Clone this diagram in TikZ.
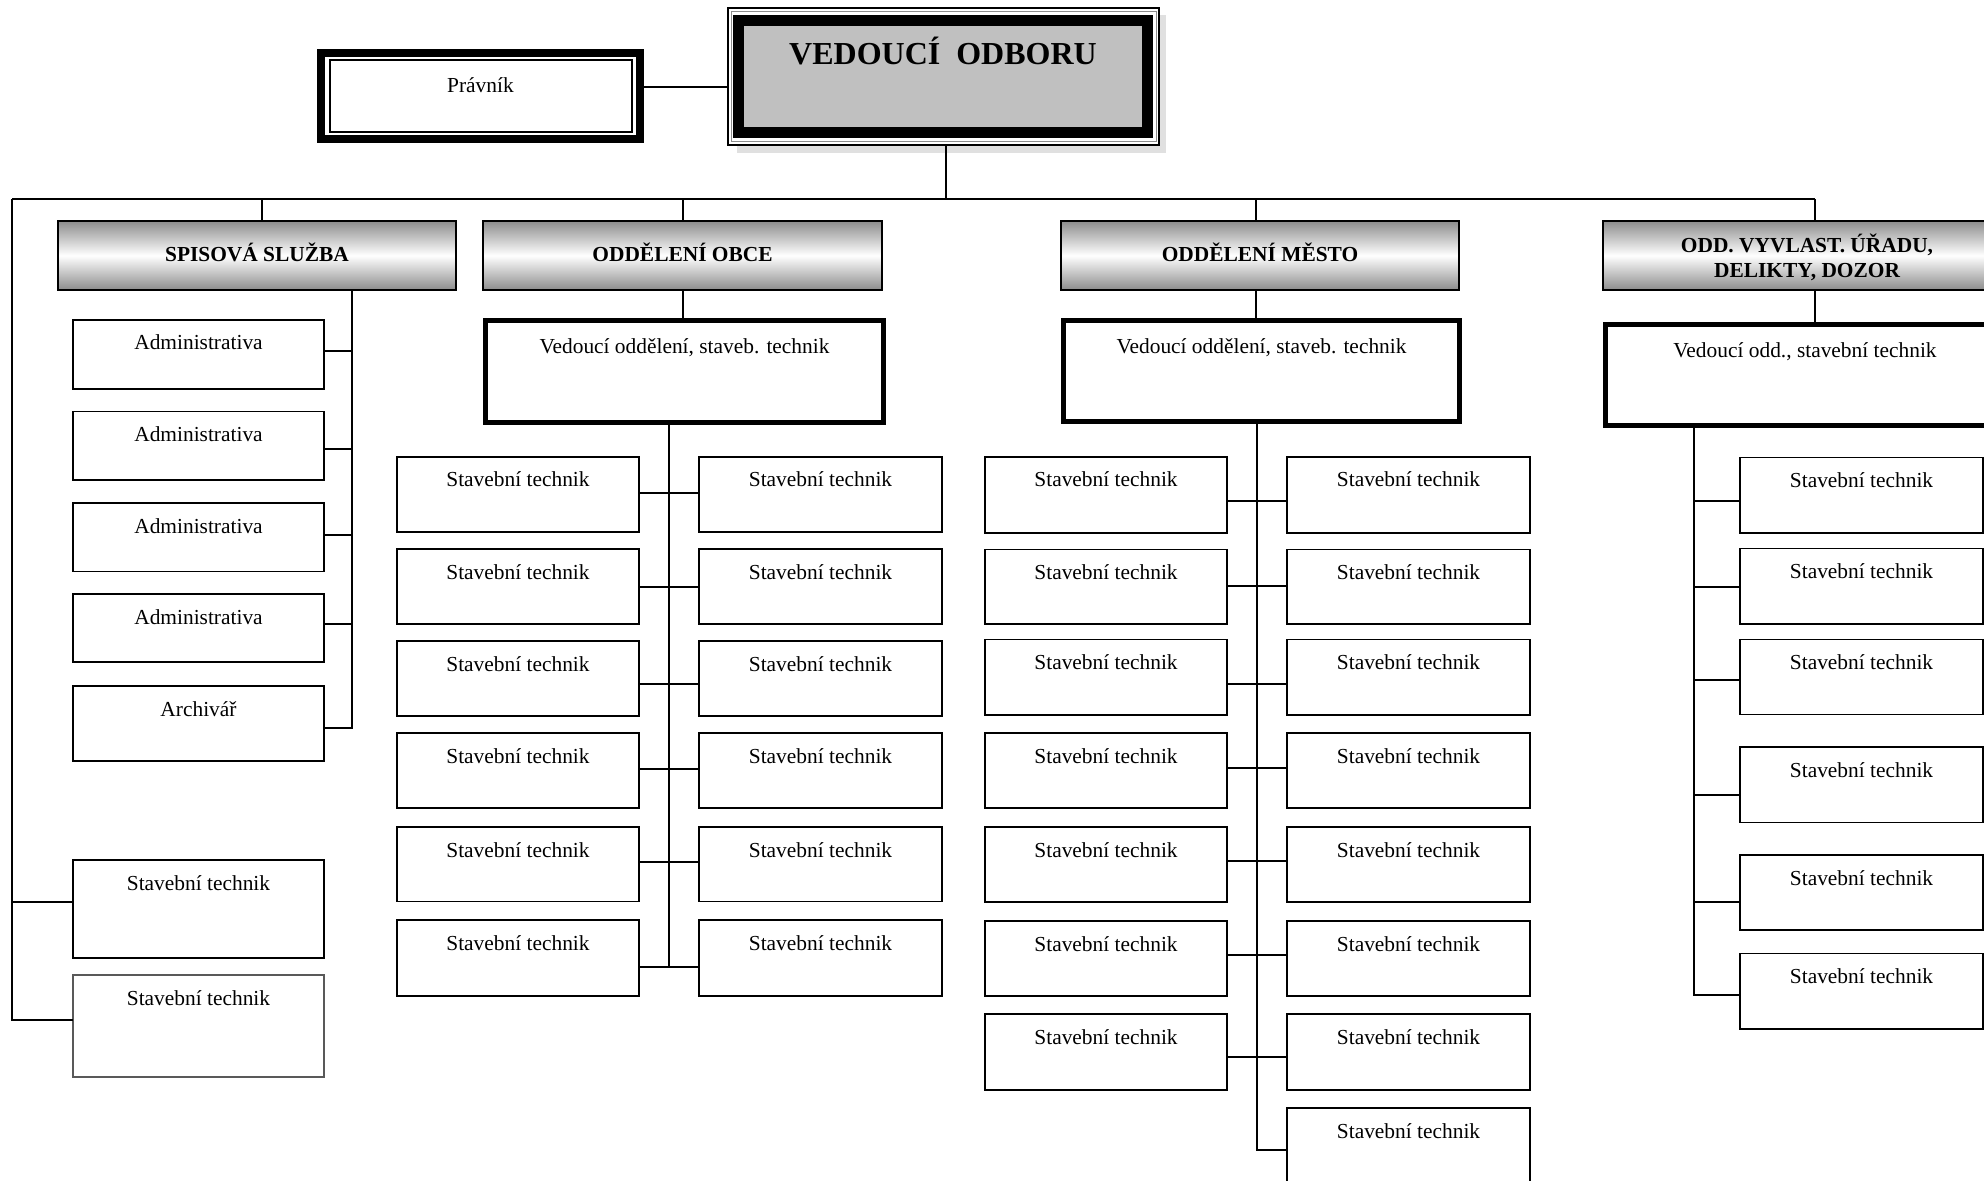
\documentclass[tikz,border=0pt]{standalone}
\usepackage{fontspec}
\setmainfont{Liberation Serif}
\usetikzlibrary{fit}
\definecolor{silv}{HTML}{C0C0C0}
\tikzset{
  conn/.style={line width=0.85pt},
  busline/.style={line width=0.95pt},
  staff/.style={draw, line width=0.9pt, inner sep=0pt, outer sep=0pt},
  lbl/.style={font=\fontsize{10.7pt}{13pt}\selectfont, anchor=base, inner sep=0pt},
  hdr/.style={draw, line width=0.9pt, inner sep=0pt, outer sep=0pt,
    top color=black!45, bottom color=black!45, middle color=white},
  hdrtxt/.style={inner sep=0pt, font=\bfseries\fontsize{10.7pt}{12.8pt}\selectfont, align=center},
  lead/.style={draw, line width=2.5pt, inner sep=0pt, outer sep=0pt, fill=white},
}
\newcommand\mkstaff[7][]{%
  \node[staff,#1,fit={(#3,#4) (#5,#6)}] (#2) {};
  \node[lbl] (#2-t) at ([yshift=-15pt]#2.north) {#7};
}
\begin{document}
\begin{tikzpicture}[x=0.5pt,y=-0.5pt]
\useasboundingbox (0,0) rectangle (1984,1181);
\fill[white] (0,0) rectangle (1984,1181);

% ---------- top: head and lawyer
\fill[black!12] (737,15) rectangle (1166,153);
\node[draw, line width=0.75pt, fill=white, inner sep=0pt, outer sep=0pt, fit={(728,8) (1159,145)}] (vfr) {};
\draw[black!45, line width=0.5pt] (731,11.5) rectangle (1156,141.5);
\node[draw, line width=5.5pt, fill=silv, inner sep=0pt, outer sep=0pt, fit={(738.5,20.5) (1147.5,132.5)}] (ved) {};
\node[anchor=base, inner sep=0pt, font=\bfseries\fontsize{16pt}{19pt}\selectfont] (vedt) at (943,65) {VEDOUCÍ\ \ ODBORU};

\node[draw, line width=4pt, inner sep=0pt, outer sep=0pt, fit={(321,53) (640,139)}] (prav) {};
\draw[line width=0.75pt] (330,60) rectangle (632,132);
\node[lbl] (pravt) at (480.5,93) {Právník};
\draw[conn] (prav.east |- 0,87) -- (vfr.west |- 0,87);

% ---------- bus
\coordinate (j0) at (946,199);
\coordinate (busL) at (12,199);
\coordinate (busR) at (1815,199);
\coordinate (j1) at (262,199);
\coordinate (j2) at (683,199);
\coordinate (j3) at (1256,199);
\draw[conn] (vfr.south -| j0) -- (j0);
\draw[busline] (busL) -- (busR);

% ---------- headers
\node[hdr, fit={(58,221) (456,290)}] (hsp) {};
\node[hdr, fit={(483,221) (882,290)}] (hob) {};
\node[hdr, fit={(1061,221) (1459,290)}] (hme) {};
\node[hdr, fit={(1603,221) (2003,290)}] (hvy) {};
\node[hdrtxt] (hsp-t) at ([yshift=1.5pt]hsp.center) {SPISOVÁ SLUŽBA};
\node[hdrtxt] (hob-t) at ([yshift=1.5pt]hob.center) {ODDĚLENÍ OBCE};
\node[hdrtxt] (hme-t) at ([yshift=1.5pt]hme.center) {ODDĚLENÍ MĚSTO};
\node[hdrtxt] (hvy-t) at ([xshift=2pt,yshift=-1pt]hvy.center) {ODD. VYVLAST. ÚŘADU,\\DELIKTY, DOZOR};
\draw[conn] (j1) -- (hsp.north -| j1);
\draw[conn] (j2) -- (hob.north -| j2);
\draw[conn] (j3) -- (hme.north -| j3);
\draw[conn] (busR) -- (hvy.north -| busR);

% ---------- department leaders
\node[lead, fit={(485.5,320.5) (883.5,422.5)}] (ovl) {};
\node[lbl] (ovl-t) at ([yshift=-16.75pt]ovl.north) {Vedoucí oddělení, staveb. technik};
\node[lead, fit={(1063.5,320.5) (1459.5,421.5)}] (mvl) {};
\node[lbl] (mvl-t) at ([yshift=-16.75pt]mvl.north) {Vedoucí oddělení, staveb. technik};
\node[lead, fit={(1605.5,324.5) (2004.5,425.5)}] (vvl) {};
\node[lbl] (vvl-t) at ([yshift=-16.75pt]vvl.north) {Vedoucí odd., stavební technik};
\draw[conn] (hob.south -| j2) -- (ovl.north -| j2);
\draw[conn] (hme.south -| j3) -- (mvl.north -| j3);
\draw[conn] (hvy.south -| busR) -- (vvl.north -| busR);

% ---------- SPISOVÁ SLUŽBA
\mkstaff{a1}{73}{320}{324}{389}{Administrativa}
\mkstaff{a2}{73}{411.5}{324}{480}{Administrativa}
\mkstaff{a3}{73}{503}{324}{571.5}{Administrativa}
\mkstaff{a4}{73}{594}{324}{662}{Administrativa}
\mkstaff{a5}{73}{686}{324}{761}{Archivář}
\coordinate (sp) at (352,728);
\draw[conn] (hsp.south -| sp) -- (sp) -- (a5.east |- sp);
\draw[conn] (a1.east |- 0,351) -- (sp |- 0,351);
\draw[conn] (a2.east |- 0,449) -- (sp |- 0,449);
\draw[conn] (a3.east |- 0,535) -- (sp |- 0,535);
\draw[conn] (a4.east |- 0,624) -- (sp |- 0,624);

\mkstaff{s1}{73}{860}{324}{958}{Stavební technik}
\mkstaff[draw=black!65,line width=0.6pt]{s2}{73}{975}{324}{1077}{Stavební technik}
\coordinate (lb) at (12,1020);
\draw[busline] (busL) -- (lb) -- (s2.west |- lb);
\draw[conn] (s1.west |- 0,902) -- (lb |- 0,902);

% ---------- ODDĚLENÍ OBCE
\foreach \i/\t/\b/\c in {1/457/532/493, 2/549/624/587, 3/641/716/684, 4/733/808/769, 5/827/901.5/862, 6/920/996/967}{
  \mkstaff{o\i}{397}{\t}{639}{\b}{Stavební technik}
  \mkstaff{p\i}{699}{\t}{942}{\b}{Stavební technik}
  \draw[conn] (o\i.east |- 0,\c) -- (p\i.west |- 0,\c);
}
\coordinate (oe) at (669,967);
\draw[conn] (ovl.south -| oe) -- (oe);

% ---------- ODDĚLENÍ MĚSTO
\foreach \i/\t/\b/\c in {1/457/533/501, 2/549.5/624/586, 3/639.5/715/684, 4/733/808/768, 5/827/902/861, 6/921/996/955, 7/1014/1090/1057}{
  \mkstaff{m\i}{985}{\t}{1227}{\b}{Stavební technik}
  \mkstaff{q\i}{1287}{\t}{1530}{\b}{Stavební technik}
  \draw[conn] (m\i.east |- 0,\c) -- (q\i.west |- 0,\c);
}
\mkstaff{q8}{1287}{1108}{1530}{1200}{Stavební technik}
\coordinate (me) at (1257,1150);
\draw[conn] (mvl.south -| me) -- (me) -- (q8.west |- me);

% ---------- ODD. VYVLAST. ÚŘADU
\coordinate (ve) at (1694,995);
\foreach \i/\t/\b/\c in {1/457.5/533/501, 2/548.5/624/587, 3/639.5/714.5/680, 4/747/822.5/795, 5/855/930/902}{
  \mkstaff{v\i}{1740}{\t}{1983}{\b}{Stavební technik}
  \draw[conn] (v\i.west |- 0,\c) -- (ve |- 0,\c);
}
\mkstaff{v6}{1740}{953.5}{1983}{1029}{Stavební technik}
\draw[conn] (vvl.south -| ve) -- (ve) -- (v6.west |- ve);
\end{tikzpicture}
\end{document}
